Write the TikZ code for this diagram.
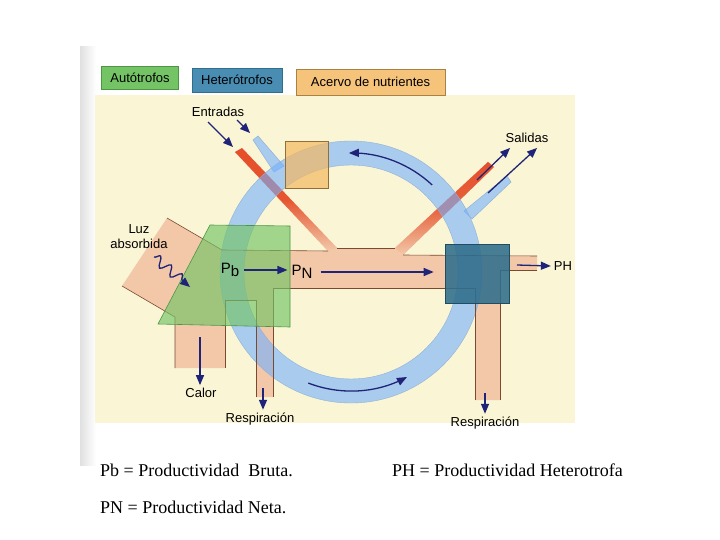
\documentclass[tikz,border=0pt]{standalone}
\usepackage{fontspec}
\setmainfont{Liberation Serif}
\newfontfamily\etiq{Liberation Sans}
\usetikzlibrary{arrows,decorations.pathmorphing}

\definecolor{crema}{HTML}{FAF5D4}
\definecolor{durazno}{HTML}{F2C8A8}
\definecolor{rojo}{HTML}{E54F2A}
\definecolor{celeste}{HTML}{A9CBEE}
\definecolor{anillo}{HTML}{73AFFF}
\definecolor{bordeazul}{HTML}{8FB2D8}
\definecolor{verde}{HTML}{74C466}
\definecolor{verdeosc}{HTML}{4C9646}
\definecolor{naranja}{HTML}{F3B862}
\definecolor{petroleo}{HTML}{2F6E8C}
\definecolor{marron}{HTML}{7A4A30}
\definecolor{azulflecha}{HTML}{1F2478}
\definecolor{azulley}{HTML}{4A8DB3}

\tikzset{
  flecha/.style={azulflecha, line width=1.3pt, -triangle 45},
  borde/.style={marron, line width=.6pt},
  rotulo/.style={font=\etiq\fontsize{13}{15}\selectfont, inner sep=0pt},
  caja/.style={draw, line width=.8pt, inner sep=0pt, font=\etiq\fontsize{13}{15}\selectfont},
  texto/.style={font=\fontsize{18}{21}\selectfont, anchor=base west, inner sep=0pt}
}

\begin{document}
\begin{tikzpicture}[x=1pt, y=-1pt]
	\useasboundingbox (0,0) rectangle (720,540);
	%foto (fondo)
	\fill[white] (0,0) rectangle (720,540);
	\shade[left color=black!12, right color=white] (80,47) rectangle (96,465);
	\fill[crema] (95,95) rectangle (575,423);
	
	%leyenda
	\node[caja, fill=verde, draw=verdeosc, minimum width=77, minimum height=23] (autotrofos) at (140,77.5) {Aut\'otrofos};
	\node[caja, fill=azulley, draw=petroleo, minimum width=90, minimum height=24] (heterotrofos) at (237,80) {Heter\'otrofos};
	\node[caja, fill=naranja!85, draw=naranja!70!black, minimum width=149, minimum height=26] (acervo) at (370.5,82) {Acervo de nutrientes};
	
	%flujo de energia (durazno)
	\fill[durazno] (167,218) -- (222,250) -- (328,251) -- (235,152) -- (242,148) -- (337,248) -- (395,248) -- (488,162) -- (494,167) -- (403,255) -- (537,256) -- (537,270) -- (500,270) -- (500,400) -- (475,400) -- (475,288) -- (273,288) -- (273,397) -- (256,397) -- (256,300) -- (225,300) -- (225,368) -- (175,368) -- (175,317) -- (122,286) -- cycle;
	\shade[top color=rojo, bottom color=durazno, middle color=rojo!95!durazno] (235,152) -- (242,148) -- (337,248) -- (328,251) -- cycle;
	\shade[top color=rojo, bottom color=durazno, middle color=rojo!85!durazno] (395,248) -- (488,162) -- (494,167) -- (403,255) -- cycle;
	
	%tubos de nutrientes
	\filldraw[fill=celeste, draw=bordeazul, line width=.5pt] (253,140) -- (258,136) -- (284,166) -- (274,172) -- cycle;
	\filldraw[fill=celeste, draw=bordeazul, line width=.5pt] (464,211) -- (507,176) -- (511,182) -- (472,219) -- cycle;
	
	%anillo
	\coordinate (centro) at (351,272);
	\fill[anillo, even odd rule, opacity=.6] (centro) circle (131pt) (centro) circle (107pt);
	\draw[bordeazul, line width=.4pt] (centro) circle (131pt) (centro) circle (107pt);
	
	%bordes
	\draw[borde] (167,218) -- (222,250) -- (328,251);
	\draw[borde] (337,248) -- (395,248);
	\draw[borde] (403,255) -- (537,256);
	\draw[borde] (537,270) -- (500,270) -- (500,400);
	\draw[borde] (475,400) -- (475,288) -- (273,288) -- (273,397);
	\draw[borde] (256,397) -- (256,300) -- (225,300) -- (225,368);
	\draw[borde] (175,368) -- (175,317) -- (122,286);
	
	%autotrofos, acervo, heterotrofos
	\filldraw[fill=verde, fill opacity=.65, draw=verdeosc, line width=.6pt] (210,225) -- (290,226) -- (290,327) -- (158,324) -- cycle;
	\filldraw[fill=naranja, fill opacity=.7, draw=naranja!60!black, line width=.6pt] (285,141) rectangle (328,188);
	\filldraw[fill=petroleo, fill opacity=.88, draw=petroleo!70!black, line width=.6pt] (445,244) rectangle (509,303);
	
	%flechas
	\draw[flecha] (centro) ++(-47:119) arc (-47:-91:119);
	\draw[flecha] (centro) ++(111:119) arc (111:62:119);
	\draw[flecha] (208,122) -- (233,147);
	\draw[flecha] (237,120) -- (250,133);
	\draw[flecha] (477,180) -- (510,148);
	\draw[flecha] (488,193) -- (537,148);
	\draw[flecha, decorate, decoration={snake, amplitude=5pt, segment length=14pt, post length=6pt}] (154,257) -- (190,287);
	
	%rotulos
	\node[rotulo] (entradas) at (218,112) {Entradas};
	\node[rotulo] (salidas) at (527,138) {Salidas};
	\node[rotulo, align=center] (luz) at (139,237) {Luz\\absorbida};
	\node[rotulo] (calor) at (201,393) {Calor};
	\node[rotulo] (resp1) at (260,419) {Respiraci\'on};
	\node[rotulo] (resp2) at (485,423) {Respiraci\'on};
	\node[rotulo] (ph) at (563,266) {PH};
	\node[rotulo, font=\etiq\fontsize{15}{17}\selectfont] (pb) at (230,270) {P\raisebox{-3pt}{b}};
	\node[rotulo, font=\etiq\fontsize{15}{17}\selectfont] (pn) at (302,272) {P\raisebox{-3pt}{N}};
	\draw[flecha] ([xshift=5pt]pb.east) -- ([xshift=-4pt]pb.east -| pn.west);
	\draw[flecha] ([xshift=8pt]pn.east) -- ++(113,0);
	\draw[flecha] (517,265) -- ([xshift=-3pt]ph.west);
	\draw[flecha] (200,337) -- ([yshift=3pt]calor.north -| 200,0);
	\draw[flecha] (263,388) -- ([yshift=3pt]resp1.north -| 263,0);
	\draw[flecha] (485,393) -- ([yshift=3pt]resp2.north -| 485,0);
	
	%definiciones
	\node[texto] (defpb) at (100,476) {Pb = Productividad\ \ Bruta.};
	\node[texto] (defph) at (392,476) {PH = Productividad Heterotrofa};
	\node[texto] (defpn) at (100,513) {PN = Productividad Neta.};
\end{tikzpicture}
\end{document}
